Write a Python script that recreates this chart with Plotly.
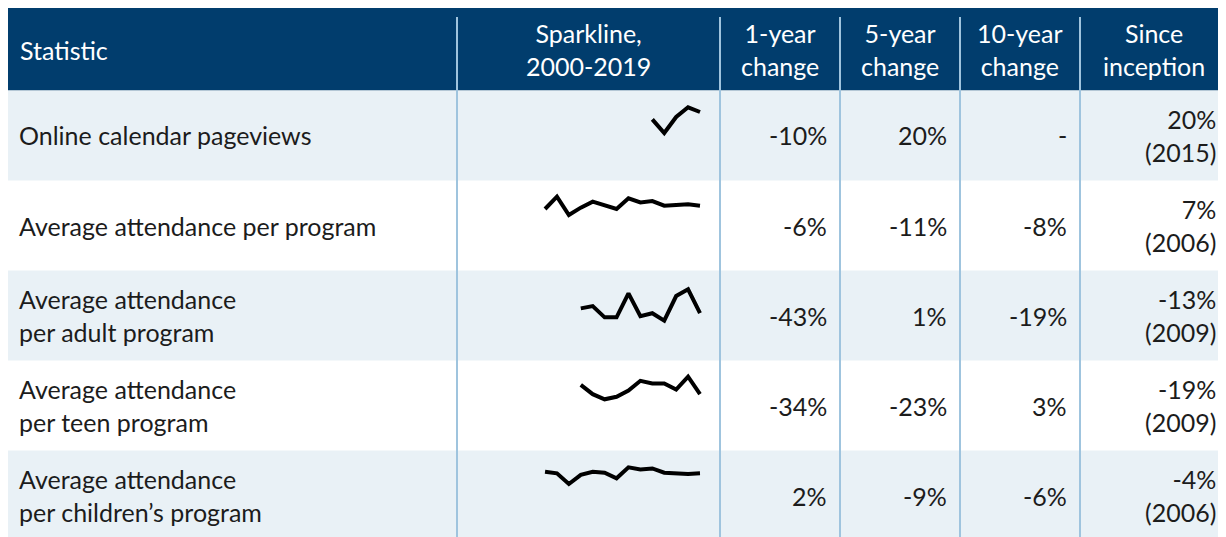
import plotly.graph_objects as go

# ---------------- data ----------------
header_labels = ["Statistic", "Sparkline,<br>2000-2019", "1-year<br>change",
                 "5-year<br>change", "10-year<br>change", "Since<br>inception"]

statistics = ["Online calendar pageviews",
              "Average attendance per program",
              "Average attendance<br>per adult program",
              "Average attendance<br>per teen program",
              "Average attendance<br>per children’s program"]
one_year = ["-10%", "-6%", "-43%", "-34%", "2%"]
five_year = ["20%", "-11%", "1%", "-23%", "-9%"]
ten_year = ["-", "-8%", "-19%", "3%", "-6%"]
since_inception = ["20%", "7%", "-13%", "-19%", "-4%"]
inception_year = ["2015", "2006", "2009", "2009", "2006"]

# sparkline series
pageviews_years = [2015, 2016, 2017, 2018, 2019]
pageviews = [100.0, 63.2, 106.5, 132.7, 120.0]

program_years = list(range(2006, 2020))
attendance_program = [17.8, 26.0, 13.8, 18.7, 22.7, 20.0, 17.8, 24.9, 22.2, 23.1,
                      20.0, 20.5, 20.9, 20.0]

adult_years = list(range(2009, 2020))
attendance_adult = [9.9, 10.5, 7.5, 7.5, 13.9, 7.8, 8.6, 6.6, 13.2, 15.0, 8.6]

teen_years = list(range(2009, 2020))
attendance_teen = [8.4, 6.6, 5.6, 6.1, 7.3, 9.2, 8.7, 8.7, 7.5, 10.0, 6.6]

children_years = list(range(2006, 2020))
attendance_children = [26.0, 25.0, 18.3, 24.0, 26.0, 25.4, 21.9, 28.8, 27.5, 28.1,
                       25.4, 25.0, 24.6, 25.0]

spark_x = [pageviews_years, program_years, adult_years, teen_years, children_years]
spark_y = [pageviews, attendance_program, attendance_adult, attendance_teen,
           attendance_children]

# ---------------- layout helpers ----------------
PAGE_W, PAGE_H = 1226, 537
OFF = 8                      # page body margin
W, H = PAGE_W - OFF, PAGE_H - OFF


def px(x):
    return (x - OFF) / W


def py(y):
    return 1 - (y - OFF) / H


HEADER_BG = "#013d6d"
ROW_BG = "#e9f1f6"
SEP = "#9fc4de"
TEXT = "#1c1c1c"
FONT = "Lato, 'Open Sans', sans-serif"
FS = 25

row_top = [90.5, 180.5, 270.5, 360.5, 450.5]
row_h = 90
# pixel positions of each sparkline's max (top) and min (bottom) values
spark_pix = [(107.3, 133.0), (196.7, 215.0), (289.3, 320.7), (376.7, 399.3), (467.3, 484.0)]

shapes = []
annotations = []

# header band
shapes.append(dict(type="rect", xref="paper", yref="paper", x0=px(7), x1=px(PAGE_W + 10),
                   y0=py(90.5), y1=py(7), fillcolor=HEADER_BG, line_width=0, layer="below"))
# shaded rows
for i, top in enumerate(row_top):
    if i % 2 == 0:
        shapes.append(dict(type="rect", xref="paper", yref="paper", x0=px(7),
                           x1=px(PAGE_W + 10), y0=py(top + row_h), y1=py(top),
                           fillcolor=ROW_BG, line_width=0, layer="below"))
# column separators
for xs in [457, 720, 840, 960, 1080]:
    shapes.append(dict(type="line", xref="paper", yref="paper", x0=px(xs), x1=px(xs),
                       y0=py(PAGE_H + 10), y1=py(17), line=dict(color=SEP, width=2),
                       layer="below"))

# header text
hdr_pos = [(18, "left"), (588.5, "center"), (780, "center"), (900, "center"),
           (1020, "center"), (1154, "center")]
for lab, (x, anc) in zip(header_labels, hdr_pos):
    annotations.append(dict(x=px(x), y=py(50), xref="paper", yref="paper", text=lab,
                            showarrow=False, xanchor=anc, yanchor="middle", align=anc,
                            font=dict(family=FONT, size=FS, color="white")))

# body text
for i in range(5):
    yc = row_top[i] + row_h / 2
    annotations.append(dict(x=px(17), y=py(yc), xref="paper", yref="paper",
                            text=statistics[i], showarrow=False, xanchor="left",
                            yanchor="middle", align="left",
                            font=dict(family=FONT, size=FS, color=TEXT)))
    for vals, xr in [(one_year, 829), (five_year, 949), (ten_year, 1069)]:
        annotations.append(dict(x=px(xr), y=py(yc), xref="paper", yref="paper",
                                text=vals[i], showarrow=False, xanchor="right",
                                yanchor="middle", align="right",
                                font=dict(family=FONT, size=FS, color=TEXT)))
    annotations.append(dict(x=px(1218), y=py(yc), xref="paper", yref="paper",
                            text=f"{since_inception[i]}<br>({inception_year[i]})",
                            showarrow=False, xanchor="right", yanchor="middle",
                            align="right", font=dict(family=FONT, size=FS, color=TEXT)))

fig = go.Figure()

# sparkline x mapping: 2000 -> 473.5 px, 2019 -> 700 px
x0_px, x1_px = 473.5, 700.0
k_x = (x1_px - x0_px) / 19.0
pad_px = 6
xdom = [px(x0_px - pad_px), px(x1_px + pad_px)]
xrng = [2000 - pad_px / k_x, 2019 + pad_px / k_x]

layout_axes = {}
for i in range(5):
    xs, ys = spark_x[i], spark_y[i]
    vmax, vmin = max(ys), min(ys)
    ptop, pbot = spark_pix[i]
    k = (pbot - ptop) / (vmax - vmin)
    rng = [vmin - pad_px / k, vmax + pad_px / k]
    dom = [py(pbot + pad_px), py(ptop - pad_px)]
    sfx = "" if i == 0 else str(i + 1)
    fig.add_trace(go.Scatter(x=xs, y=ys, mode="lines",
                             line=dict(color="black", width=4),
                             xaxis="x" + sfx, yaxis="y" + sfx,
                             showlegend=False, hoverinfo="skip"))
    layout_axes["xaxis" + sfx] = dict(domain=xdom, range=xrng, visible=False,
                                      fixedrange=True, anchor="y" + sfx)
    layout_axes["yaxis" + sfx] = dict(domain=dom, range=rng, visible=False,
                                      fixedrange=True, anchor="x" + sfx)

fig.update_layout(width=W, height=H, margin=dict(l=0, r=0, t=0, b=0),
                  paper_bgcolor="white", plot_bgcolor="rgba(0,0,0,0)",
                  shapes=shapes, annotations=annotations, showlegend=False,
                  **layout_axes)

fig.write_html("out.html")
